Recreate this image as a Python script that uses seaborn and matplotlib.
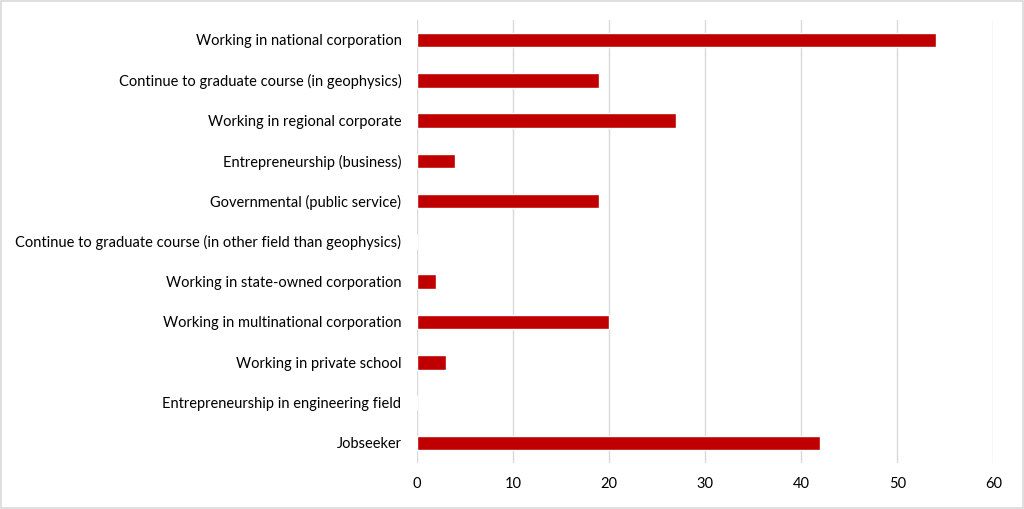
import matplotlib
matplotlib.use('Agg')
import matplotlib.pyplot as plt
import seaborn as sns
import pandas as pd

# categories from top to bottom
categories = [
    'Working in national corporation',
    'Continue to graduate course (in geophysics)',
    'Working in regional corporate',
    'Entrepreneurship (business)',
    'Governmental (public service)',
    'Continue to graduate course (in other field than geophysics)',
    'Working in state-owned corporation',
    'Working in multinational corporation',
    'Working in private school',
    'Entrepreneurship in engineering field',
    'Jobseeker',
]
counts = [54, 19, 27, 4, 19, 0, 2, 20, 3, 0, 42]
x_ticks = [0, 10, 20, 30, 40, 50, 60]

df = pd.DataFrame({'category': categories, 'count': counts})

sns.set_theme(style='white')
plt.rcParams['font.family'] = ['Lato', 'DejaVu Sans']

fig = plt.figure(figsize=(10.24, 5.09), dpi=100)
ax = fig.add_axes([0.407, 0.0904, 0.563, 0.8706])

sns.barplot(data=df, y='category', x='count', color='#C00000', saturation=1,
            width=0.36, orient='h', ax=ax)

ax.set_xlim(0, 60)
ax.set_xticks(x_ticks)
ax.set_ylim(len(categories) - 0.5, -0.5)
ax.xaxis.grid(True, color='#d9d9d9', linewidth=1)
ax.set_axisbelow(True)
for s in ax.spines.values():
    s.set_visible(False)
ax.set_xlabel('')
ax.set_ylabel('')
ax.tick_params(axis='both', length=0, labelsize=10.5, colors='#000000')
ax.tick_params(axis='y', pad=11)
ax.tick_params(axis='x', pad=10)

# light border around the whole figure
fig.patches.append(plt.Rectangle((0.001, 0.002), 0.998, 0.996, transform=fig.transFigure,
                                 fill=False, edgecolor='#d9d9d9', linewidth=1.2))

fig.savefig('out.png', dpi=100, facecolor='white')
